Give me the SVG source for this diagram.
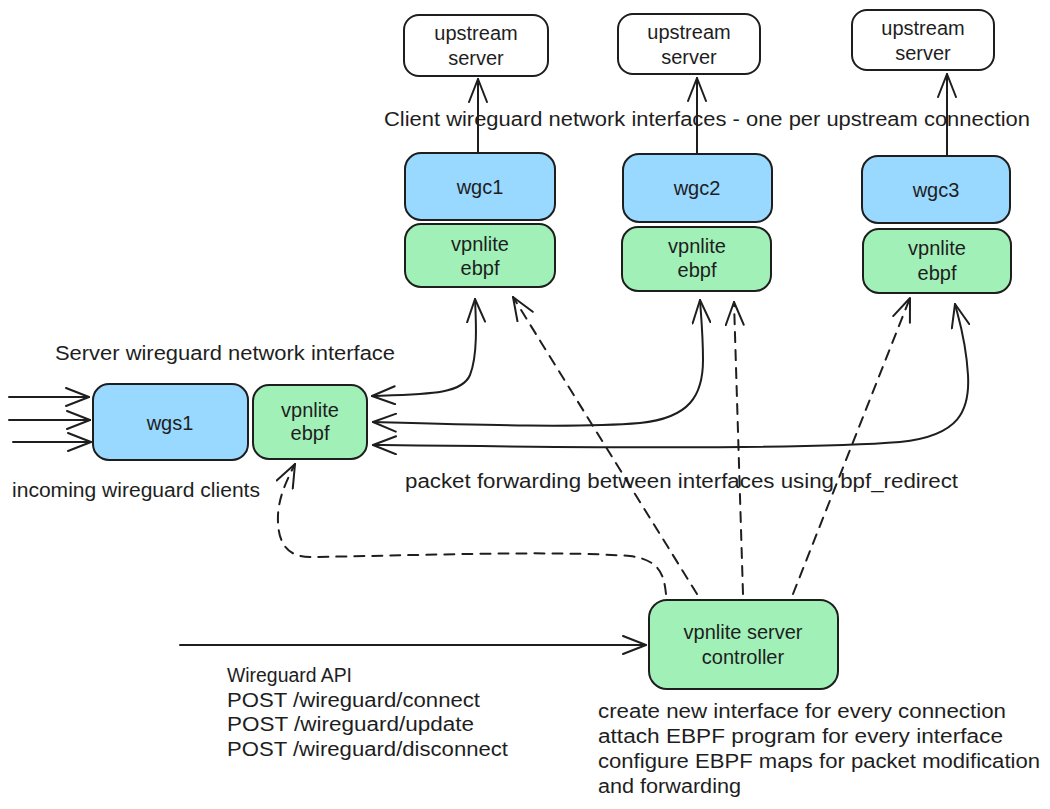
<svg xmlns="http://www.w3.org/2000/svg" width="1050" height="809" viewBox="0 0 1050 809">
<style>
  .box { stroke:#1e1e1e; stroke-width:2; }
  .blue { fill:#99d8ff; }
  .green { fill:#a1f0b8; }
  .white { fill:#ffffff; }
  text { font-family:"Liberation Sans","DejaVu Sans",sans-serif; font-size:20px; fill:#1e1e1e; }
  .c { text-anchor:middle; }
  .conn path { fill:none; stroke:#1e1e1e; stroke-width:2; stroke-linecap:round; stroke-linejoin:round; }
  .conn .dash { stroke-dasharray:10 8; }
</style>
<defs>
  <marker id="ah" viewBox="0 0 26 20" refX="24" refY="10" markerWidth="26" markerHeight="20" markerUnits="userSpaceOnUse" orient="auto-start-reverse">
    <path d="M1,1 L24,10 L1,19" fill="none" stroke="#1e1e1e" stroke-width="2" stroke-dasharray="none" stroke-linecap="round" stroke-linejoin="round"/>
  </marker>
</defs>
<rect width="1050" height="809" fill="#ffffff"/>

<g id="upstream1">
  <rect class="box white" x="404" y="15" width="144" height="61" rx="15"/>
  <text class="c" x="476" y="40">upstream</text>
  <text class="c" x="476" y="65">server</text>
</g>
<g id="upstream2">
  <rect class="box white" x="618" y="14" width="142" height="60" rx="15"/>
  <text class="c" x="689" y="39">upstream</text>
  <text class="c" x="689" y="64">server</text>
</g>
<g id="upstream3">
  <rect class="box white" x="852" y="10" width="142" height="60" rx="15"/>
  <text class="c" x="923" y="35">upstream</text>
  <text class="c" x="923" y="60">server</text>
</g>

<g id="wgc1">
  <rect class="box blue" x="405" y="153" width="150" height="67" rx="16"/>
  <text class="c" x="480" y="194">wgc1</text>
</g>
<g id="ebpf1">
  <rect class="box green" x="405" y="224" width="150" height="63" rx="16"/>
  <text class="c" x="480" y="251">vpnlite</text>
  <text class="c" x="480" y="275">ebpf</text>
</g>
<g id="wgc2">
  <rect class="box blue" x="623" y="154" width="149" height="68" rx="16"/>
  <text class="c" x="697" y="195">wgc2</text>
</g>
<g id="ebpf2">
  <rect class="box green" x="622" y="227" width="149" height="64" rx="16"/>
  <text class="c" x="697" y="253">vpnlite</text>
  <text class="c" x="697" y="277">ebpf</text>
</g>
<g id="wgc3">
  <rect class="box blue" x="862" y="156" width="148" height="67" rx="16"/>
  <text class="c" x="936" y="197">wgc3</text>
</g>
<g id="ebpf3">
  <rect class="box green" x="863" y="229" width="148" height="64" rx="16"/>
  <text class="c" x="937" y="255">vpnlite</text>
  <text class="c" x="937" y="280">ebpf</text>
</g>

<g id="wgs1">
  <rect class="box blue" x="93" y="384" width="155" height="76" rx="16"/>
  <text class="c" x="170" y="430">wgs1</text>
</g>
<g id="ebpf0">
  <rect class="box green" x="253" y="385" width="114" height="74" rx="16"/>
  <text class="c" x="310" y="417">vpnlite</text>
  <text class="c" x="310" y="440">ebpf</text>
</g>

<g id="controller">
  <rect class="box green" x="649" y="600" width="189" height="89" rx="18"/>
  <text class="c" x="743" y="639">vpnlite server</text>
  <text class="c" x="743" y="664">controller</text>
</g>

<g id="labels">
  <text x="384" y="126" textLength="646" lengthAdjust="spacingAndGlyphs">Client wireguard network interfaces - one per upstream connection</text>
  <text x="55" y="360" textLength="340" lengthAdjust="spacingAndGlyphs">Server wireguard network interface</text>
  <text x="12" y="497" textLength="248" lengthAdjust="spacingAndGlyphs">incoming wireguard clients</text>
  <text x="405" y="488" textLength="553" lengthAdjust="spacingAndGlyphs">packet forwarding between interfaces using bpf_redirect</text>
  <text x="227" y="682" textLength="125" lengthAdjust="spacingAndGlyphs">Wireguard API</text>
  <text x="227" y="707" textLength="253" lengthAdjust="spacingAndGlyphs">POST /wireguard/connect</text>
  <text x="227" y="731" textLength="247" lengthAdjust="spacingAndGlyphs">POST /wireguard/update</text>
  <text x="227" y="756" textLength="281" lengthAdjust="spacingAndGlyphs">POST /wireguard/disconnect</text>
  <text x="598" y="718" textLength="408" lengthAdjust="spacingAndGlyphs">create new interface for every connection</text>
  <text x="598" y="743" textLength="405" lengthAdjust="spacingAndGlyphs">attach EBPF program for every interface</text>
  <text x="598" y="768" textLength="442" lengthAdjust="spacingAndGlyphs">configure EBPF maps for packet modification</text>
  <text x="598" y="793" textLength="143" lengthAdjust="spacingAndGlyphs">and forwarding</text>
</g>

<g id="connectors" class="conn">
  <path d="M478,152 L478,79" marker-end="url(#ah)"/>
  <path d="M697,154 L697,78" marker-end="url(#ah)"/>
  <path d="M947,156 L947,74" marker-end="url(#ah)"/>

  <path d="M9,397 L89,397" marker-end="url(#ah)"/>
  <path d="M9,420 L90,420" marker-end="url(#ah)"/>
  <path d="M13,442 L91,442" marker-end="url(#ah)"/>

  <path d="M372,396 C430,394 462,394 470,375 C478,355 476,320 475,299" marker-start="url(#ah)" marker-end="url(#ah)"/>
  <path d="M373,422 C480,425 580,428 640,423 C690,418 703,395 703,360 C703,335 701,315 700,300" marker-start="url(#ah)" marker-end="url(#ah)"/>
  <path d="M373,445 C550,447 800,450 900,442 C960,436 970,410 968,375 C966,340 959,320 955,304" marker-start="url(#ah)" marker-end="url(#ah)"/>

  <path class="dash" d="M666,594 C664,575 660,560 630,556 C550,550 400,556 310,557 C285,557 277,540 278,515 C279,495 288,478 295,464" marker-end="url(#ah)"/>
  <path class="dash" d="M697,594 L513,297" marker-end="url(#ah)"/>
  <path class="dash" d="M743,594 L734,302" marker-end="url(#ah)"/>
  <path class="dash" d="M793,594 L910,298" marker-end="url(#ah)"/>

  <path d="M180,645 L646,645" marker-end="url(#ah)"/>
</g>
</svg>
